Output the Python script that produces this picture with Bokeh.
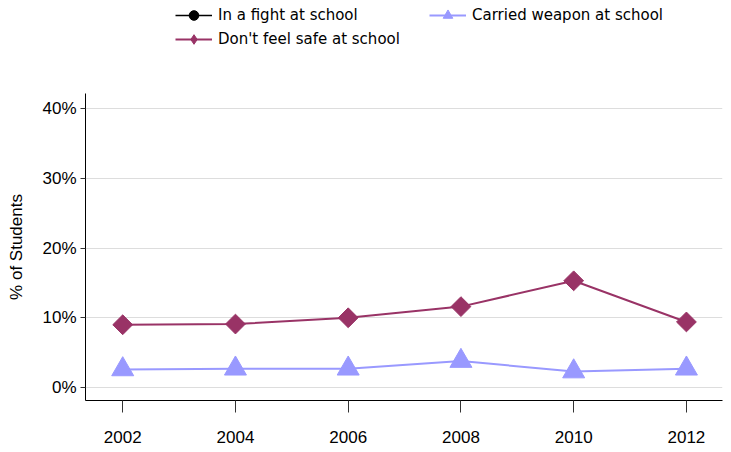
import math
from bokeh.plotting import figure
from bokeh.layouts import column
from bokeh.models import Legend, LegendItem, FixedTicker, Range1d, ColumnDataSource
from bokeh.embed import file_html
from bokeh.resources import INLINE

# ---- data ----
years = [2002, 2004, 2006, 2008, 2010, 2012]
fight = [math.nan, math.nan, math.nan, math.nan, math.nan, math.nan]  # no data shown
unsafe = [9.0, 9.1, 10.0, 11.6, 15.3, 9.4]
weapon = [2.6, 2.7, 2.7, 3.8, 2.3, 2.7]
series_names = ["In a fight at school", "Don't feel safe at school", "Carried weapon at school"]
y_ticks = [0, 10, 20, 30, 40]
y_tick_labels = ["0%", "10%", "20%", "30%", "40%"]
x_ticks = [2002, 2004, 2006, 2008, 2010, 2012]
y_title = "% of Students"

C_FIGHT = "#000000"
C_UNSAFE = "#993366"
C_WEAPON = "#9999ff"

STYLES = [
    dict(color=C_FIGHT, lw=1.5, marker="circle", size=12, angle=0.0, lmarker="circle"),
    dict(color=C_UNSAFE, lw=2, marker="square", size=14, angle=math.pi / 4, lmarker="diamond"),
    dict(color=C_WEAPON, lw=2, marker="triangle", size=22, angle=0.0, lmarker="triangle"),
]

# ---------------- main chart ----------------
p = figure(width=731, height=396, output_backend="svg", toolbar_location=None,
           x_range=Range1d(2001.34, 2012.64), y_range=Range1d(-1.86, 42.15),
           min_border_left=85, min_border_right=9, min_border_top=37, min_border_bottom=52)
p.outline_line_color = None
p.background_fill_color = "white"

src = ColumnDataSource(dict(x=years, s0=fight, s1=unsafe, s2=weapon))
for i, st in enumerate(STYLES):
    p.line("x", f"s{i}", source=src, color=st["color"], line_width=st["lw"])
    p.scatter("x", f"s{i}", source=src, marker=st["marker"], size=st["size"],
              angle=st["angle"], color=st["color"])

p.xgrid.grid_line_color = None
p.ygrid.grid_line_color = "#dddddd"
p.ygrid.grid_line_width = 1
p.ygrid.ticker = FixedTicker(ticks=y_ticks)

p.yaxis.ticker = FixedTicker(ticks=y_ticks)
p.yaxis.major_label_overrides = {t: l for t, l in zip(y_ticks, y_tick_labels)}
p.yaxis.minor_tick_line_color = None
p.yaxis.major_tick_in = 0
p.yaxis.major_tick_out = 5
p.yaxis.major_label_standoff = 4
p.yaxis.axis_label = y_title
p.yaxis.axis_label_standoff = 13
p.yaxis.axis_label_text_font = "Liberation Sans"
p.yaxis.axis_label_text_font_style = "normal"
p.yaxis.axis_label_text_font_size = "17px"
p.yaxis.axis_label_text_color = "#000000"

p.xaxis.ticker = FixedTicker(ticks=x_ticks)
p.xaxis.minor_tick_line_color = None
p.xaxis.major_tick_in = 0
p.xaxis.major_tick_out = 12
p.xaxis.major_label_standoff = 18

for ax in (p.xaxis, p.yaxis):
    ax.major_label_text_font = "Liberation Sans"
    ax.major_label_text_font_size = "17px"
    ax.major_label_text_color = "#000000"
    ax.axis_line_color = "#000000"
    ax.axis_line_width = 1
    ax.major_tick_line_color = "#333333"

# ---------------- legend strip ----------------
lg = figure(width=731, height=56, output_backend="svg", toolbar_location=None,
            x_range=Range1d(0, 1), y_range=Range1d(0, 1),
            x_axis_type=None, y_axis_type=None,
            min_border_left=0, min_border_right=0, min_border_top=0, min_border_bottom=0)
lg.outline_line_color = None
lg.xgrid.grid_line_color = None
lg.ygrid.grid_line_color = None

empty = ColumnDataSource(dict(x=[math.nan], y=[math.nan]))
items = []
for name, st in zip(series_names, STYLES):
    r1 = lg.line("x", "y", source=empty, color=st["color"], line_width=st["lw"])
    r2 = lg.scatter("x", "y", source=empty, marker=st["lmarker"], color=st["color"])
    items.append(LegendItem(label=name, renderers=[r1, r2]))

legend = Legend(items=items, ncols=2, location=(90, 5))
legend.border_line_color = None
legend.background_fill_alpha = 0
legend.padding = 0
legend.margin = 0
legend.spacing = 0
legend.glyph_width = 37
legend.glyph_height = 24
legend.label_height = 24
legend.label_width = 211
legend.label_standoff = 6
legend.label_text_font = "DejaVu Sans"
legend.label_text_font_size = "15px"
legend.label_text_color = "#000000"
lg.add_layout(legend, "center")

layout = column(lg, p, spacing=0)
open("out.html", "w").write(file_html(layout, INLINE))
